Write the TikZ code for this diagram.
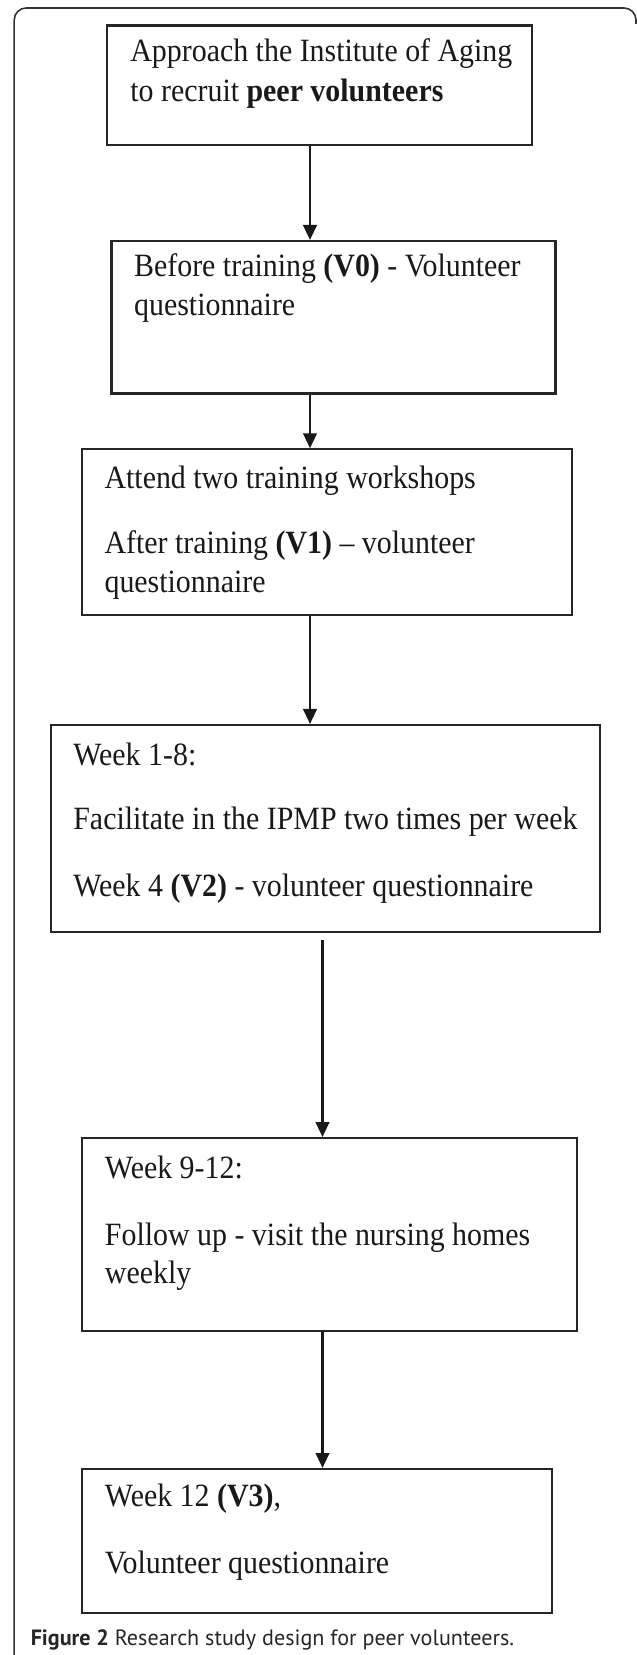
\documentclass[tikz,border=0pt]{standalone}
\usepackage{fontspec}
\setmainfont{Liberation Serif}[FakeStretch=0.92]
\newfontfamily\captionfont{PT Sans}
\usetikzlibrary{calc}
\usetikzlibrary{fit}
\usetikzlibrary{arrows.meta}

\tikzset{
  stepbox/.style={draw=black!85, line width=1.15pt, inner sep=0pt},
  boxtext/.style={anchor=base west, inner sep=0pt, text=black!90, font=\fontsize{18.5}{22}\selectfont},
  flowarrow/.style={draw=black!90, line width=1.5pt, -{Triangle[length=0.3cm, width=0.27cm]}},
}

\begin{document}
\begin{tikzpicture}[x=0.02cm, y=-0.02cm]
    % picture size, one unit is one pixel, y runs down
    \useasboundingbox (0,0) rectangle (636,1655);

    % outer frame, open at the bottom
    \draw[black!80, line width=0.9pt, rounded corners=0.24cm] (14.2,1655) -- (14.2,8) -- (636,8) -- (636,24);

    % columns of the arrows
    \coordinate (colA) at (310,0);
    \coordinate (colB) at (322.5,0);

    % the six steps
    \node[stepbox, fit={(106.7,25.5) (532,145)}] (recruit) {};
    \node[boxtext] (recruitA) at (130,62) {Approach the Institute of Aging};
    \node[boxtext] (recruitB) at (130,101.7) {to recruit \textbf{peer volunteers}};

    \node[stepbox, fit={(111.5,241) (555.5,393.5)}] (before) {};
    \node[boxtext] (beforeA) at (133.8,277) {Before training \textbf{(V0)} - Volunteer};
    \node[boxtext] (beforeB) at (133.8,316) {questionnaire};

    \node[stepbox, fit={(82.3,449.3) (571.8,615)}] (training) {};
    \node[boxtext] (trainingA) at (104.2,488) {Attend two training workshops};
    \node[boxtext] (trainingB) at (104.2,553) {After training \textbf{(V1)} \textendash{} volunteer};
    \node[boxtext] (trainingC) at (104.2,592.7) {questionnaire};

    \node[stepbox, fit={(51.1,725) (600.2,931.7)}] (facil) {};
    \node[boxtext] (facilA) at (73,765) {Week 1-8:};
    \node[boxtext] (facilB) at (73,829) {Facilitate in the IPMP two times per week};
    \node[boxtext] (facilC) at (73,896.7) {Week 4 \textbf{(V2)} - volunteer questionnaire};

    \node[stepbox, fit={(82.3,1138) (576.6,1331)}] (follow) {};
    \node[boxtext] (followA) at (104.6,1178) {Week 9-12:};
    \node[boxtext] (followB) at (104.6,1245) {Follow up - visit the nursing homes};
    \node[boxtext] (followC) at (104.6,1283) {weekly};

    \node[stepbox, fit={(82.3,1469) (552.3,1612.7)}] (final) {};
    \node[boxtext] (finalA) at (104.6,1506.7) {Week 12 \textbf{(V3)},};
    \node[boxtext] (finalB) at (104.6,1573.3) {Volunteer questionnaire};

    % arrows between the steps
    \draw[flowarrow] (recruit.south -| colA) -- (before.north -| colA);
    \draw[flowarrow] (before.south -| colA) -- (training.north -| colA);
    \draw[flowarrow] (training.south -| colA) -- (facil.north -| colA);
    \draw[flowarrow, shorten <=0.14cm] (facil.south -| colB) -- (follow.north -| colB);
    \draw[flowarrow] (follow.south -| colB) -- (final.north -| colB);

    % caption
    \node[anchor=base west, inner sep=0pt, text=black!85, font=\captionfont\fontsize{12.6}{14}\selectfont] (caption) at (30.4,1645) {\textbf{Figure 2} Research study design for peer volunteers.};
\end{tikzpicture}
\end{document}
